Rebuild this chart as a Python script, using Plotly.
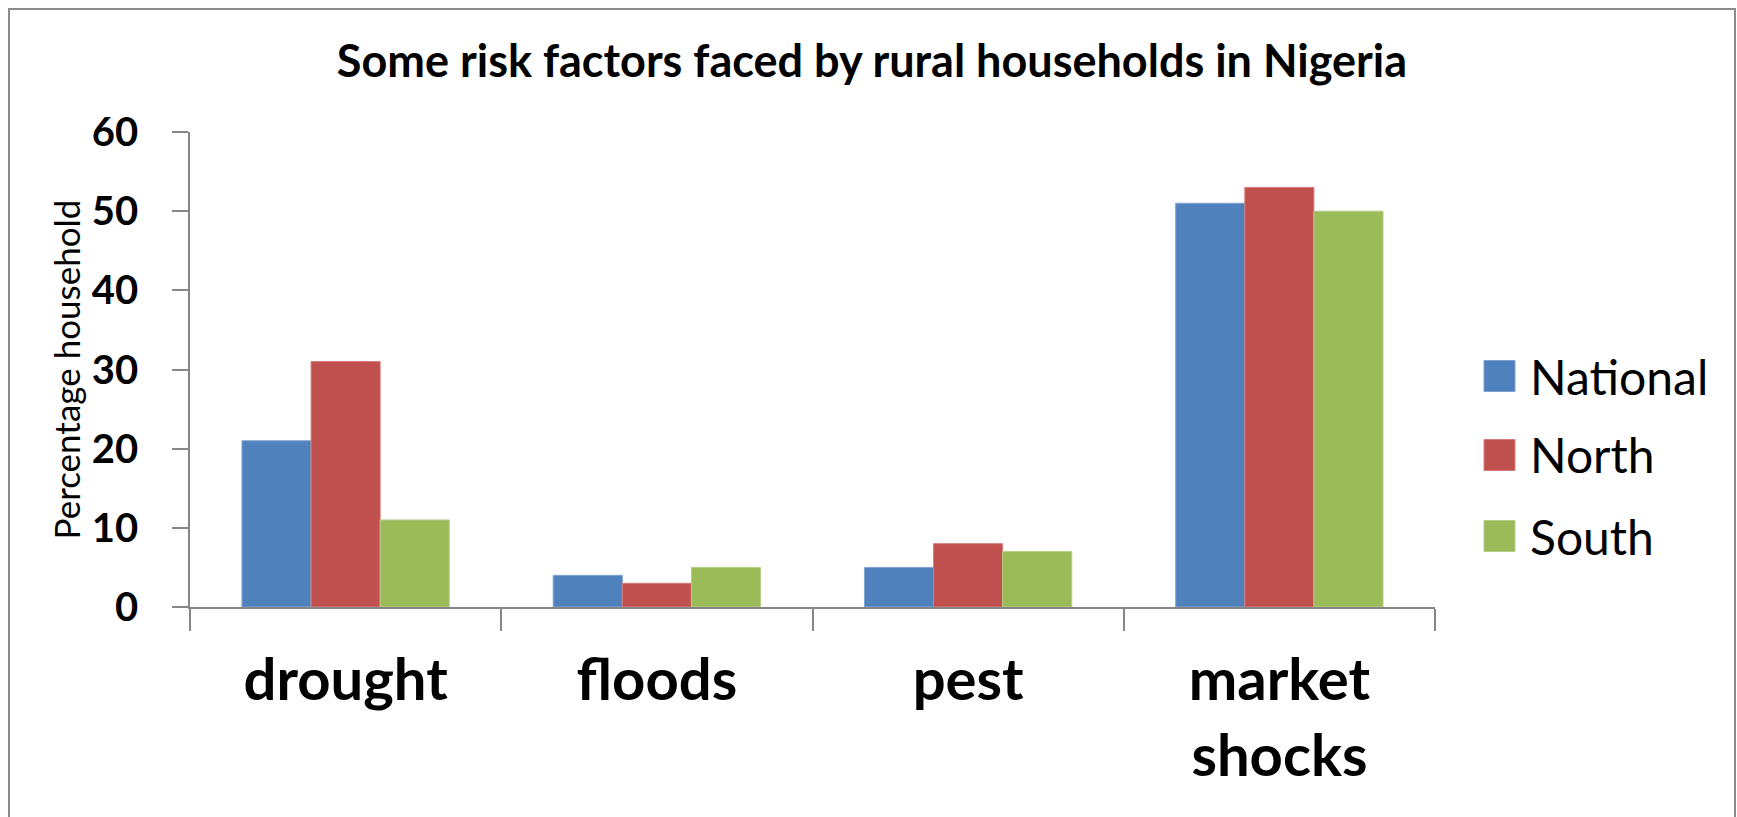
import plotly.graph_objects as go

categories = ["drought", "floods", "pest", "market<br>shocks"]
series_names = ["National", "North", "South"]
national = [21, 4, 5, 51]
north = [31, 3, 8, 53]
south = [11, 5, 7, 50]
colors = ["#4F81BD", "#C0504D", "#9BBB59"]
edge_colors = ["#7FA3D0", "#D47E7C", "#B5CE87"]
y_ticks = [0, 10, 20, 30, 40, 50, 60]

W, H = 1737, 817
ML, MR, MT, MB = 190, 302, 132, 210
PW, PH = W - ML - MR, H - MT - MB

def px_x(p):
    return (p - ML) / PW

def px_y(p):
    return (H - MB - p) / PH

fig = go.Figure()
for name, vals, c, ec in zip(series_names, [national, north, south], colors, edge_colors):
    fig.add_trace(go.Bar(name=name, x=categories, y=vals,
                         marker=dict(color=c, line=dict(color=ec, width=1)),
                         showlegend=False))

# manual legend (large swatches like the original)
legend_rows = [376, 455, 536]
shapes = []
annotations = []
for name, c, ec, ry in zip(series_names, colors, edge_colors, legend_rows):
    shapes.append(dict(type="rect", xref="paper", yref="paper",
                       x0=px_x(1484), x1=px_x(1515), y0=px_y(ry + 15.5), y1=px_y(ry - 15.5),
                       fillcolor=c, line=dict(color=ec, width=1)))
    annotations.append(dict(text=name, xref="paper", yref="paper", x=px_x(1528), y=px_y(ry),
                            xanchor="left", yanchor="middle", showarrow=False,
                            font=dict(family="Lato", size=48, color="black")))

# outer border
shapes.append(dict(type="rect", xref="paper", yref="paper",
                   x0=px_x(9), x1=px_x(1735), y0=px_y(830), y1=px_y(9),
                   line=dict(color="#8C8C8C", width=2), fillcolor="rgba(0,0,0,0)", layer="below"))

fig.update_layout(
    width=W, height=H,
    margin=dict(l=ML, r=MR, t=MT, b=MB, autoexpand=False),
    paper_bgcolor="white", plot_bgcolor="white",
    barmode="group", bargap=0.334, bargroupgap=0,
    title=dict(text="Some risk factors faced by rural households in Nigeria",
               x=0.502, xref="container", xanchor="center",
               y=1 - 61 / H, yref="container", yanchor="middle",
               font=dict(family="Lato", size=45, color="black", weight="bold")),
    shapes=shapes, annotations=annotations,
    showlegend=False,
)
fig.update_xaxes(
    showline=True, linecolor="#868686", linewidth=1.5,
    ticks="outside", tickson="boundaries", ticklen=22, tickcolor="#868686", tickwidth=1.5,
    tickfont=dict(family="Lato", size=58, color="black", weight="bold"),
    ticklabelstandoff=22,
    showgrid=False, zeroline=False, automargin=False,
)
fig.update_yaxes(
    range=[0, 60], tickvals=y_ticks,
    showline=True, linecolor="#868686", linewidth=1.5,
    ticks="outside", ticklen=16, tickcolor="#868686", tickwidth=1.5,
    tickfont=dict(family="Lato", size=40, color="black", weight="bold"),
    ticklabelstandoff=26,
    showgrid=False, zeroline=False, automargin=False,
    title=dict(text="Percentage household", standoff=1,
               font=dict(family="Lato", size=35, color="black")),
)

fig.write_html("out.html")
